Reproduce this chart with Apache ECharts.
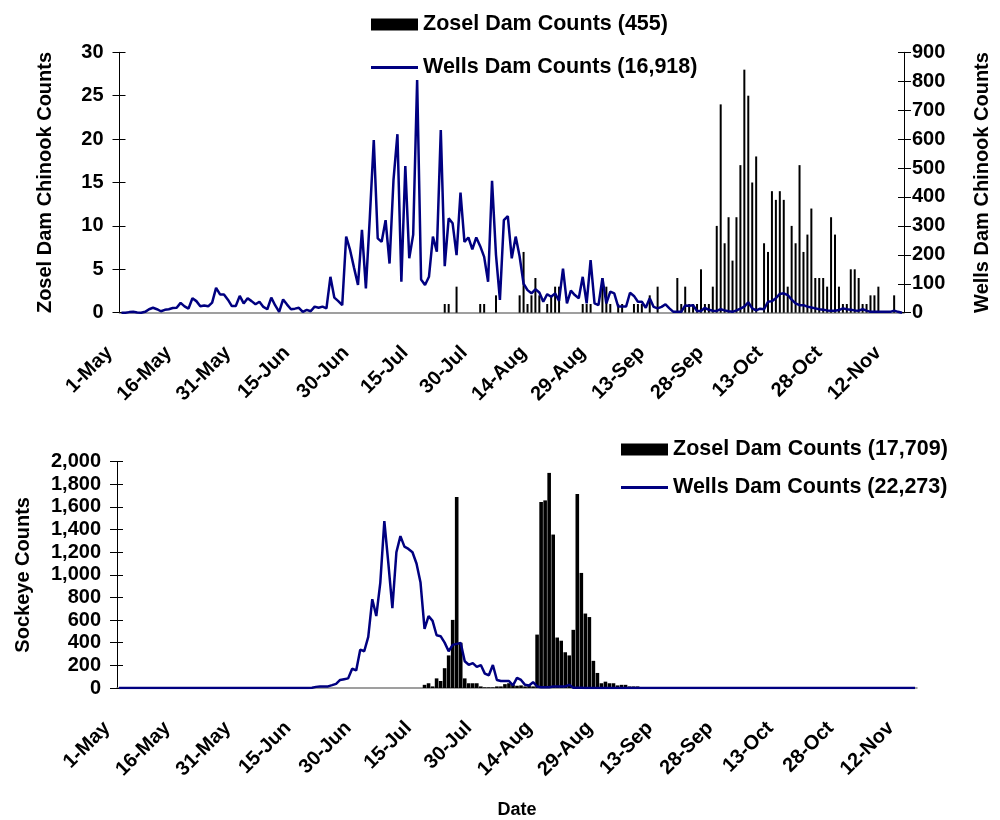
<!doctype html>
<html lang="en">
<head>
    <meta charset="UTF-8">
    <script src="https://cdn.jsdelivr.net/npm/echarts@6/dist/echarts.min.js"></script>
    <title>Chinook and Sockeye counts</title>
    <style>
        body { margin: 0; background: #fff; }
    </style>
</head>
<body>
<div id="main" style="width: 1000px;height:820px;"></div>
<script>
    // categories: 1-May ... 15-Nov, one per day
    var months = ['Jan', 'Feb', 'Mar', 'Apr', 'May', 'Jun', 'Jul', 'Aug', 'Sep', 'Oct', 'Nov', 'Dec'];
    var dates = [];
    for (var i = 0; i < 199; i++) {
        var d = new Date(2000, 4, 1 + i);
        dates.push(d.getDate() + '-' + months[d.getMonth()]);
    }

    // Chinook - Wells Dam (right axis)
    var chinookWells = [
        0, 0, 2, 3, 1, 0, 3, 12, 17, 12,
        5, 10, 12, 16, 17, 34, 22, 14, 50, 40,
        22, 25, 22, 35, 86, 63, 63, 45, 23, 23,
        58, 32, 50, 40, 29, 38, 20, 12, 52, 25,
        3, 46, 28, 12, 14, 17, 3, 10, 5, 21,
        17, 21, 15, 124, 52, 40, 26, 263, 216, 155,
        96, 286, 84, 330, 597, 257, 245, 320, 170, 458,
        617, 107, 507, 188, 270, 804, 115, 96, 124, 263,
        211, 631, 161, 326, 309, 199, 415, 245, 260, 219,
        260, 230, 193, 107, 456, 200, 44, 320, 334, 188,
        263, 194, 100, 78, 67, 81, 70, 38, 64, 55,
        67, 41, 152, 32, 76, 61, 50, 124, 32, 182,
        32, 26, 119, 32, 73, 67, 21, 21, 21, 69,
        58, 38, 38, 17, 50, 20, 15, 20, 29, 15,
        3, 3, 3, 25, 24, 26, 6, 6, 17, 10,
        7, 6, 12, 8, 5, 3, 8, 14, 21, 36,
        15, 8, 14, 12, 38, 40, 50, 65, 67, 61,
        45, 32, 26, 26, 21, 18, 15, 12, 10, 8,
        7, 7, 9, 15, 12, 10, 8, 7, 12, 7,
        3, 3, 3, 3, 3, 3, 7, 3, 0
    ];

    // Chinook - Zosel Dam (left axis)
    var chinookZosel = [
        0, 0, 0, 0, 0, 0, 0, 0, 0, 0,
        0, 0, 0, 0, 0, 0, 0, 0, 0, 0,
        0, 0, 0, 0, 0, 0, 0, 0, 0, 0,
        0, 0, 0, 0, 0, 0, 0, 0, 0, 0,
        0, 0, 0, 0, 0, 0, 0, 0, 0, 0,
        0, 0, 0, 0, 0, 0, 0, 0, 0, 0,
        0, 0, 0, 0, 0, 0, 0, 0, 0, 0,
        0, 0, 0, 0, 0, 0, 0, 0, 0, 0,
        0, 0, 1, 1, 0, 3, 0, 0, 0, 0,
        0, 1, 1, 0, 0, 2, 0, 0, 0, 0,
        0, 2, 7, 1, 2, 4, 2, 0, 1, 2,
        3, 3, 0, 0, 0, 0, 0, 1, 1, 1,
        0, 0, 4, 3, 1, 0, 1, 1, 0, 0,
        1, 1, 1, 0, 2, 0, 3, 0, 0, 0,
        0, 4, 1, 3, 1, 1, 1, 5, 1, 1,
        3, 10, 24, 8, 11, 6, 11, 17, 28, 25,
        15, 18, 0, 8, 7, 14, 13, 14, 13, 3,
        10, 8, 17, 7, 9, 12, 4, 4, 4, 3,
        11, 9, 3, 1, 1, 5, 5, 4, 1, 1,
        2, 2, 3, 0, 0, 0, 2, 0, 0
    ];

    // Sockeye - Wells Dam
    var sockeyeWells = [
        0, 0, 0, 0, 0, 0, 0, 0, 0, 0,
        0, 0, 0, 0, 0, 0, 0, 0, 0, 0,
        0, 0, 0, 0, 0, 0, 0, 0, 0, 0,
        0, 0, 0, 0, 0, 0, 0, 0, 0, 0,
        0, 0, 0, 0, 0, 0, 0, 0, 3, 10,
        14, 14, 14, 25, 37, 71, 78, 85, 170, 155,
        339, 325, 452, 785, 636, 932, 1475, 1102, 706, 1200,
        1342, 1249, 1229, 1200, 1100, 932, 523, 636, 593, 466,
        458, 401, 325, 381, 390, 398, 236, 205, 220, 187,
        203, 127, 113, 203, 71, 62, 62, 62, 23, 90,
        71, 28, 23, 51, 14, 6, 6, 6, 14, 14,
        14, 14, 28, 3, 2, 2, 1, 1, 0, 0,
        0, 0, 0, 0, 0, 0, 0, 0, 0, 0,
        0, 0, 0, 0, 0, 0, 0, 0, 0, 0,
        0, 0, 0, 0, 0, 0, 0, 0, 0, 0,
        0, 0, 0, 0, 0, 0, 0, 0, 0, 0,
        0, 0, 0, 0, 0, 0, 0, 0, 0, 0,
        0, 0, 0, 0, 0, 0, 0, 0, 0, 0,
        0, 0, 0, 0, 0, 0, 0, 0, 0, 0,
        0, 0, 0, 0, 0, 0, 0, 0, 0
    ];

    // Sockeye - Zosel Dam
    var sockeyeZosel = [
        0, 0, 0, 0, 0, 0, 0, 0, 0, 0,
        0, 0, 0, 0, 0, 0, 0, 0, 0, 0,
        0, 0, 0, 0, 0, 0, 0, 0, 0, 0,
        0, 0, 0, 0, 0, 0, 0, 0, 0, 0,
        0, 0, 0, 0, 0, 0, 0, 0, 0, 0,
        0, 0, 0, 0, 0, 0, 0, 0, 0, 0,
        0, 0, 0, 0, 0, 0, 0, 0, 0, 0,
        0, 0, 0, 0, 0, 0, 28, 42, 14, 85,
        62, 175, 288, 602, 1689, 400, 85, 42, 42, 42,
        14, 6, 6, 6, 14, 14, 34, 42, 28, 20,
        23, 14, 23, 14, 472, 1644, 1658, 1901, 1356, 446,
        418, 316, 288, 514, 1715, 1017, 658, 627, 240, 133,
        42, 56, 42, 42, 23, 28, 28, 14, 14, 14,
        8, 8, 5, 0, 0, 0, 0, 0, 0, 0,
        5, 0, 0, 0, 0, 0, 0, 0, 0, 0,
        0, 0, 8, 5, 0, 0, 0, 0, 0, 0,
        5, 0, 0, 0, 0, 0, 0, 0, 0, 0,
        0, 0, 0, 0, 0, 0, 0, 0, 0, 0,
        0, 0, 0, 0, 0, 0, 0, 0, 0, 0,
        0, 0, 0, 0, 0, 0, 0, 0, 0
    ];

    var font = 'Liberation Sans';
    var navy = '#000080';
    // plain thin line for the legend (no marker)
    var lineIcon = 'path://M0,0 L47,0 L47,3 L0,3 Z';

    function xAxisFor(grid, name) {
        return {
            gridIndex: grid,
            type: 'category',
            data: dates,
            boundaryGap: true,
            name: name,
            nameLocation: 'middle',
            nameGap: 113,
            nameTextStyle: {fontFamily: font, fontWeight: 'bold', fontSize: 18, color: '#000'},
            axisLine: {lineStyle: {color: '#808080', width: 1.5}},
            axisTick: {interval: 14, length: 7, lineStyle: {color: '#000'}},
            axisLabel: {
                interval: 14, rotate: 45, margin: 25, padding: [0, 17, 0, 0],
                fontFamily: font, fontWeight: 'bold', fontSize: 20, color: '#000'
            },
            splitLine: {show: false}
        };
    }

    function yAxisFor(grid, pos, min, max, step, name, gap, margin) {
        return {
            gridIndex: grid,
            type: 'value',
            position: pos,
            min: min, max: max, interval: step,
            name: name,
            nameLocation: 'middle',
            nameGap: gap,
            nameTextStyle: {fontFamily: font, fontWeight: 'bold', fontSize: 20, color: '#000'},
            axisLine: {show: true, lineStyle: {color: '#000', width: 1}},
            axisTick: {show: true, length: 7, lineStyle: {color: '#000'}},
            axisLabel: {
                margin: margin, fontFamily: font, fontWeight: 'bold', fontSize: 20, color: '#000',
                formatter: function (v) { return v.toLocaleString('en-US'); }
            },
            splitLine: {show: false}
        };
    }

    // second copy of an axis that only draws the inner half of the ticks
    function innerTicks(grid, pos, min, max, step) {
        return {
            gridIndex: grid, type: 'value', position: pos,
            min: min, max: max, interval: step,
            axisLine: {show: false},
            axisTick: {show: true, inside: true, length: 6, lineStyle: {color: '#000'}},
            axisLabel: {show: false},
            splitLine: {show: false}
        };
    }

    var legendText = {fontFamily: font, fontWeight: 'bold', fontSize: 21.5, color: '#000'};

    var myChart = echarts.init(document.getElementById('main'));
    var option = {
        backgroundColor: '#fff',
        animation: false,
        legend: [{
            orient: 'vertical', left: 366, top: 8.5,
            itemWidth: 47, itemHeight: 12, itemGap: 21,
            selectedMode: false,
            textStyle: legendText,
            data: [
                {name: 'Zosel Dam Counts (455)', icon: 'rect'},
                {name: 'Wells Dam Counts (16,918)', icon: lineIcon}
            ]
        }, {
            orient: 'vertical', left: 616, top: 433.5,
            itemWidth: 47, itemHeight: 12, itemGap: 16,
            selectedMode: false,
            textStyle: legendText,
            data: [
                {name: 'Zosel Dam Counts (17,709)', icon: 'rect'},
                {name: 'Wells Dam Counts (22,273)', icon: lineIcon}
            ]
        }],
        grid: [
            {left: 119.5, top: 52.3, width: 796, height: 260.4},
            {left: 117, top: 461.7, width: 800, height: 235}
        ],
        xAxis: [xAxisFor(0, ''), xAxisFor(1, 'Date')],
        yAxis: [
            yAxisFor(0, 'left', 0, 30, 5, 'Zosel Dam Chinook Counts', 64, 16),
            yAxisFor(0, 'right', 0, 900, 100, 'Wells Dam Chinook Counts', 68, 8),
            innerTicks(0, 'left', 0, 30, 5),
            innerTicks(0, 'right', 0, 900, 100),
            yAxisFor(1, 'left', 0, 2000, 200, 'Sockeye Counts', 84, 16),
            innerTicks(1, 'left', 0, 2000, 200)
        ],
        series: [{
            name: 'Zosel Dam Counts (455)',
            type: 'bar',
            xAxisIndex: 0, yAxisIndex: 0,
            barWidth: 2,
            itemStyle: {color: '#000'},
            data: chinookZosel
        }, {
            name: 'Wells Dam Counts (16,918)',
            type: 'line',
            xAxisIndex: 0, yAxisIndex: 1,
            symbol: 'none',
            lineStyle: {color: navy, width: 2.5},
            itemStyle: {color: navy},
            data: chinookWells
        }, {
            name: 'Zosel Dam Counts (17,709)',
            type: 'bar',
            xAxisIndex: 1, yAxisIndex: 4,
            barWidth: 3.6,
            itemStyle: {color: '#000'},
            data: sockeyeZosel
        }, {
            name: 'Wells Dam Counts (22,273)',
            type: 'line',
            xAxisIndex: 1, yAxisIndex: 4,
            symbol: 'none',
            lineStyle: {color: navy, width: 2.5},
            itemStyle: {color: navy},
            data: sockeyeWells
        }]
    };
    myChart.setOption(option);
</script>
</body>
</html>
